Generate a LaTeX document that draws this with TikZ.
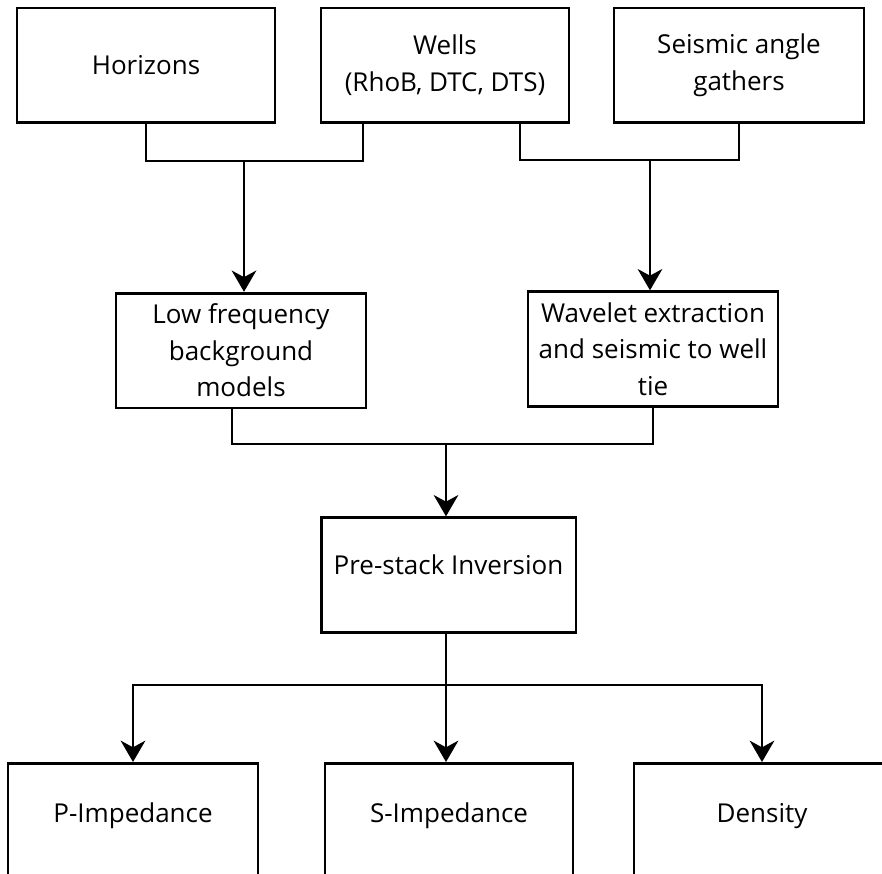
\documentclass[tikz,border=0pt]{standalone}
\usepackage{fontspec}
\setmainfont{Open Sans}
\usetikzlibrary{arrows.meta}
\begin{document}
\begin{tikzpicture}[x=0.75pt, y=-0.75pt,
  every node/.style={font=\fontsize{19.5}{27.5}\selectfont},
  blk/.style={draw,line width=2pt,minimum width=187.5pt,minimum height=86pt,align=center,inner sep=2pt},
  leaf/.style={blk,anchor=north,inner ysep=0pt,text height=44.5pt,text depth=60pt,minimum height=0pt},
  conn/.style={line width=1.7pt},
  >={Stealth[length=16pt,width=18.5pt,inset=5pt]}]
\useasboundingbox (0,0) rectangle (882,874);
\clip (0,0) rectangle (882,874);
% inputs
\node[blk,minimum width=193.5pt] (hor) at (146,65.5) {Horizons};
\node[blk,minimum width=186pt] (wells) at (445,65.5) {Wells\\(RhoB, DTC, DTS)};
\node[blk] (seis) at (739,65.5) {Seismic angle\\gathers};
% intermediate steps
\node[blk] (lowf) at (241,350.5) {Low frequency\\background\\models};
\node[blk] (wav) at (653,349) {Wavelet extraction\\and seismic to well\\tie};
\node[blk,minimum width=191pt,text depth=15pt] (inv) at (448.5,575) {Pre-stack Inversion};
% outputs (cut at the lower edge)
\node[leaf] (pimp) at (133,762) {P-Impedance};
\node[leaf,minimum width=186pt] (simp) at (449,762) {S-Impedance};
\node[leaf,minimum width=192pt] (dens) at (762,762) {Density};
% junctions
\coordinate (wl) at (363,161);
\coordinate (j1) at (244,161);
\coordinate (wr) at (520,160);
\coordinate (j2) at (650,160);
\coordinate (ml) at (232,444);
\coordinate (j3) at (446,444);
\coordinate (j4) at (446,685);
\draw[conn] (hor.south) |- (wl) -- (wl |- wells.south);
\draw[conn,->] (j1) -- (j1 |- lowf.north);
\draw[conn] (wr |- wells.south) -- (wr) -| (seis.south);
\draw[conn,->] (j2) -- (j2 |- wav.north);
\draw[conn] (ml |- lowf.south) -- (ml) -| (wav.south);
\draw[conn,->] (j3) -- (j3 |- inv.north);
\draw[conn,->] (j4 |- inv.south) -- (j4 |- simp.north);
\draw[conn,->] (j4) -| (pimp.north);
\draw[conn,->] (j4) -| (dens.north);
\end{tikzpicture}
\end{document}
